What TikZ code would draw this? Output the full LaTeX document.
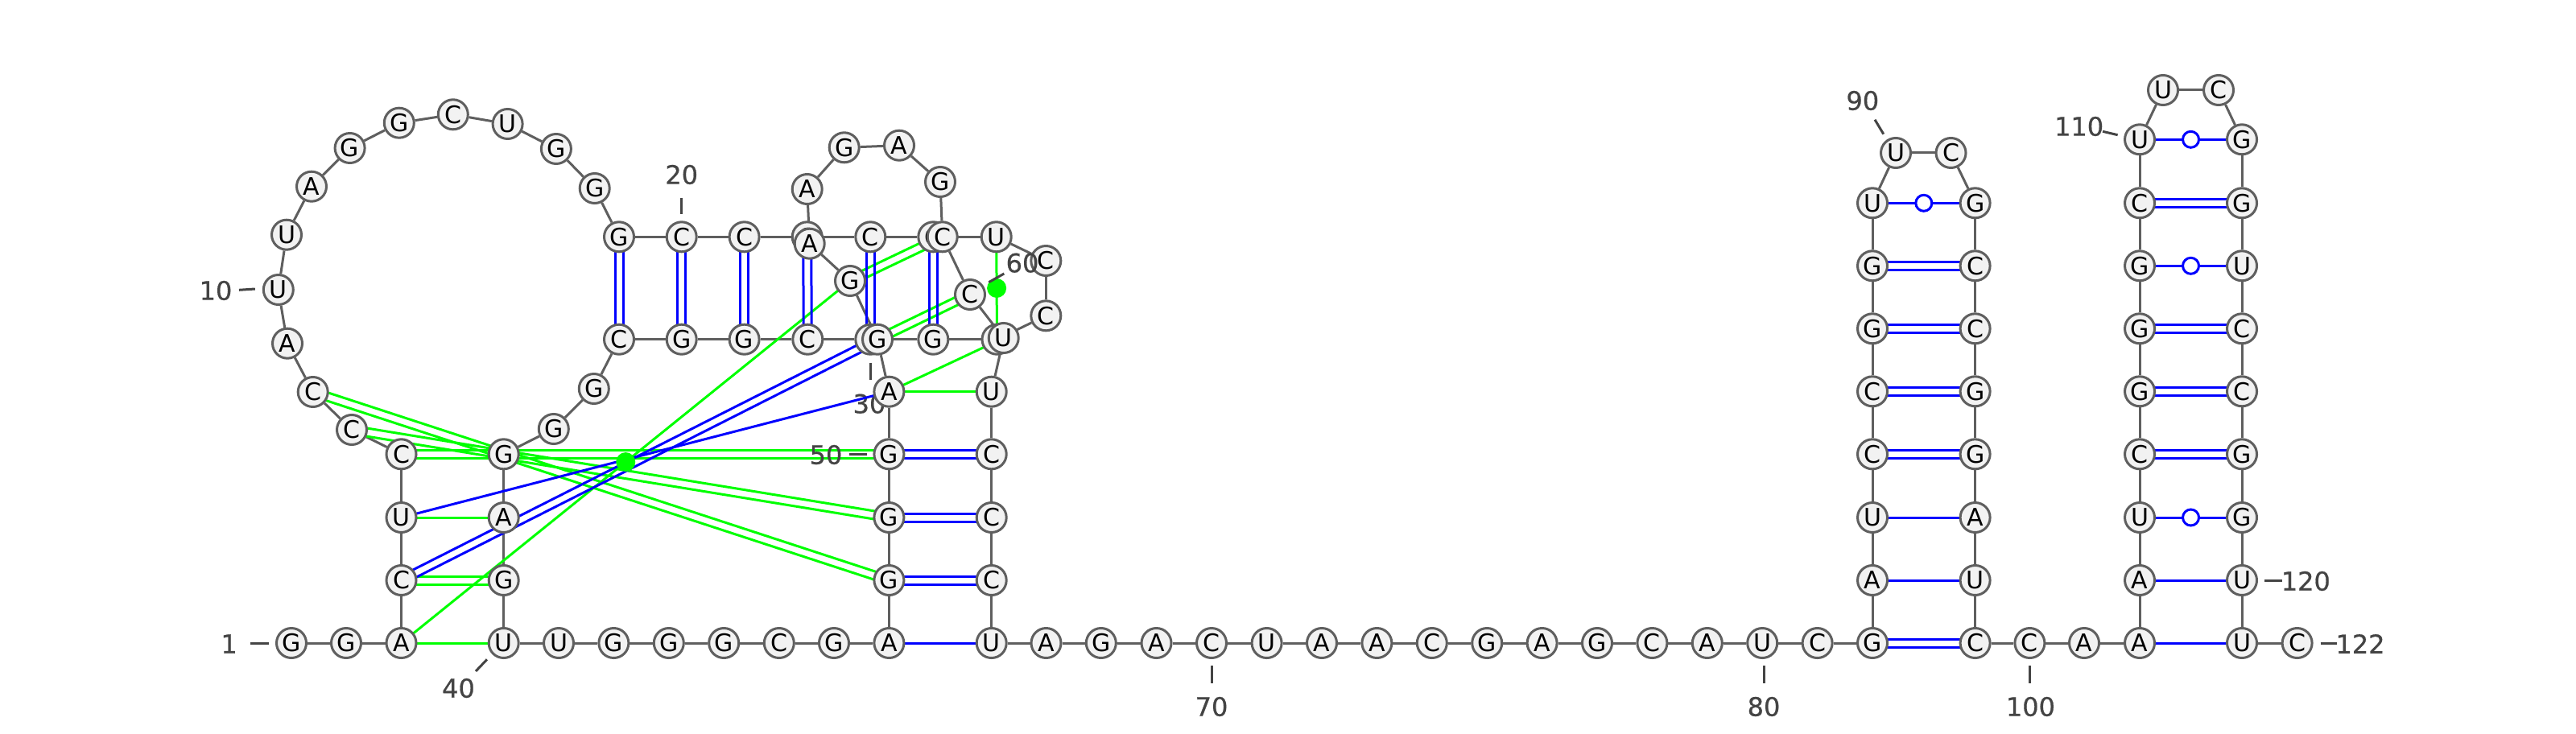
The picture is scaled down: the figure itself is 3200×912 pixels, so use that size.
\documentclass[tikz,border=0pt]{standalone}
\usepackage{fontspec}
\setmainfont{DejaVu Sans}
\newfontfamily\numfont[FakeBold=0.6]{DejaVu Sans}
\usetikzlibrary{calc}
\pgfdeclarelayer{edges}
\pgfsetlayers{edges,main}
\definecolor{nodefill}{HTML}{F2F2F2}
\definecolor{nodeline}{HTML}{5F5F5F}
\definecolor{labelgray}{HTML}{444444}
\definecolor{pairgreen}{HTML}{00FF00}
\definecolor{pairblue}{HTML}{0000FF}
\tikzset{
  nt/.style={circle,draw=nodeline,fill=nodefill,line width=3pt,minimum size=37pt,inner sep=0pt,text=black,font=\fontsize{30}{30}\selectfont},
  backbone/.style={draw=nodeline,line width=3pt},
  pairline/.style={line width=3pt},
  tick/.style={draw=labelgray,line width=3pt},
  numlabel/.style={text=labelgray,inner sep=0pt,font=\numfont\fontsize{32}{32}\selectfont},
  greendot/.style={circle,fill=pairgreen,draw=none,minimum size=24pt,inner sep=0pt},
  opendot/.style={circle,fill=white,draw=pairblue,line width=3pt,minimum size=20pt,inner sep=0pt},
}
\newcommand{\pairdbl}[3]{\draw[pairline,#3] ($(n#1)!5pt!90:(n#2)$) -- ($(n#2)!5pt!-90:(n#1)$);
  \draw[pairline,#3] ($(n#1)!5pt!-90:(n#2)$) -- ($(n#2)!5pt!90:(n#1)$);}
\newcommand{\pairone}[3]{\draw[pairline,#3] (n#1.center) -- (n#2.center);}
\newcommand{\numtick}[7]{\node[numlabel] (lab#1) at (#2,#3) {#1};
  \coordinate (ta#1) at (#4,#5);
  \coordinate (tb#1) at (#6,#7);
  \draw[tick] (ta#1) -- (tb#1);}
\begin{document}
\begin{tikzpicture}[x=1pt,y=-1pt]
\useasboundingbox (0,0) rectangle (3200,912);
% nucleotides, in sequence order so that later ones lie on top
\foreach \i/\x/\y/\t in {
1/362/799/G,2/430/799/G,3/498.5/799/A,4/498.5/721/C,5/498.5/643/U,6/498.5/564.3/C,
7/437/534/C,8/388.7/487/C,9/357/426.7/A,10/345.8/360/U,11/356/291.7/U,12/387/231.7/A,
13/434.6/184/G,14/495.8/152.7/G,15/562.8/142.3/C,16/630.6/154/U,17/690.9/185/G,18/738.7/234/G,
19/769/294.3/G,20/846.7/294.3/C,21/924.6/294.3/C,22/1002.7/294.3/G,23/1081.3/294.3/C,24/1159.3/294.3/C,
25/1237.7/294.3/U,26/1299.3/324/C,27/1299.3/392.3/C,28/1238.5/421.7/U,29/1159.3/421.7/G,30/1081.3/421.7/G,
31/1003.3/421.7/C,32/924.6/421.7/G,33/846.7/421.7/G,34/769/421.7/C,35/737.8/483/G,36/687.8/533/G,
37/625.7/564.3/G,38/625.7/643/A,39/625.7/721/G,40/625.7/799/U,41/694/799/U,42/762.4/799/G,
43/830.8/799/G,44/899.2/799/G,45/967.8/799/C,46/1036/799/G,47/1104.4/799/A,48/1104.4/721/G,
49/1104.4/643/G,50/1104.4/564.3/G,51/1104.4/486.7/A,52/1090/421.7/G,53/1056/349/G,54/1005.7/302.7/A,
55/1002.7/235/A,56/1048.7/183.3/G,57/1117/180.7/A,58/1168/226/G,59/1170.7/294.3/C,60/1205/366/C,
61/1246.7/420/U,62/1231.7/486.7/U,63/1231.7/564.3/C,64/1231.7/643/C,65/1231.7/721/C,66/1231.7/799/U,
67/1299.5/799/A,68/1367.8/799/G,69/1436.5/799/A,70/1505/799/C,71/1573.6/799/U,72/1642/799/A,
73/1710.4/799/A,74/1778.8/799/C,75/1847.2/799/G,76/1915.6/799/A,77/1984/799/G,78/2052.4/799/C,
79/2120.8/799/A,80/2189.2/799/U,81/2257.6/799/C,82/2326/799/G,83/2326/721/A,84/2326/643/U,
85/2326/564.3/C,86/2326/486.3/C,87/2326/408.3/G,88/2326/330.3/G,89/2326/252.3/U,90/2355/190/U,
91/2423.5/190/C,92/2453.6/252.3/G,93/2453.6/330.3/C,94/2453.6/408.3/C,95/2453.6/486.3/G,96/2453.6/564.3/G,
97/2453.6/643/A,98/2453.6/721/U,99/2453.6/799/C,100/2521.4/799/C,101/2589/799/A,102/2658/799/A,
103/2658/721/A,104/2658/643/U,105/2658/564.3/C,106/2658/486.3/G,107/2658/408.3/G,108/2658/330.3/G,
109/2658/252.3/C,110/2658/173.3/U,111/2687/112/U,112/2756/112/C,113/2785/173.3/G,114/2785/252.3/G,
115/2785/330.3/U,116/2785/408.3/C,117/2785/486.3/C,118/2785/564.3/G,119/2785/643/G,120/2785/721/U,
121/2785/799/U,122/2853.6/799/C}{
  \node[nt] (n\i) at (\x,\y) {\t};
}
% base-pair marks
\node[greendot] (dotA) at ($(n3)!0.5!(n53)$) {};
\node[greendot] (dotB) at ($(n25)!0.5!(n28)$) {};
\foreach \a/\b in {89/92,108/115,104/119,110/113}{
  \node[opendot] (open\a) at ($(n\a)!0.5!(n\b)$) {};
}
% label 60 lies over its neighbouring nucleotide
\numtick{60}{1270}{326.7}{1228.3}{350.7}{1247.3}{340}
\begin{pgfonlayer}{edges}
\fill[white] (0,0) rectangle (3200,912);
\foreach \i [evaluate=\i as \j using int(\i+1)] in {1,...,121}{
  \draw[backbone] (n\i) -- (n\j);
}
% label 30 lies under the pair lines and under the nucleotide
\numtick{30}{1080}{501.7}{1081.3}{450.7}{1081.3}{471.7}
% long-range green pairs
\foreach \a/\b in {4/39,6/50,7/49,8/48,53/59,52/60}{\pairdbl{\a}{\b}{pairgreen}}
\foreach \a/\b in {3/40,5/38,51/61,51/62,3/53,25/28}{\pairone{\a}{\b}{pairgreen}}
% blue pairs
\foreach \a/\b in {19/34,20/33,21/32,22/31,23/30,24/29,4/52,50/63,49/64,48/65,82/99,85/96,86/95,87/94,88/93,105/118,106/117,107/116,109/114}{\pairdbl{\a}{\b}{pairblue}}
\foreach \a/\b in {5/51,47/66,83/98,84/97,89/92,102/121,103/120,104/119,108/115,110/113}{\pairone{\a}{\b}{pairblue}}
% position labels with ticks
\numtick{1}{284.6}{800}{311.4}{799}{333.8}{799}
\numtick{10}{268}{361}{297}{360.3}{316.8}{359}
\numtick{20}{846.7}{217}{846.7}{245.7}{846.7}{266}
\numtick{40}{569.5}{855}{605}{819.3}{591}{834}
\numtick{50}{1026}{565}{1054.8}{564}{1077}{564}
\numtick{70}{1505}{878}{1505}{827}{1505}{849}
\numtick{80}{2191}{878}{2191}{827}{2191}{849}
\numtick{90}{2313.8}{125}{2329}{148.7}{2339.8}{166.7}
\numtick{100}{2522.4}{878}{2521.4}{827}{2521.4}{849}
\numtick{110}{2582.6}{157}{2612}{163.3}{2630.6}{167.7}
\numtick{120}{2864.3}{722}{2813}{721}{2835}{721}
\numtick{122}{2932}{800}{2882.6}{799}{2903}{799}
\end{pgfonlayer}
\end{tikzpicture}
\end{document}
